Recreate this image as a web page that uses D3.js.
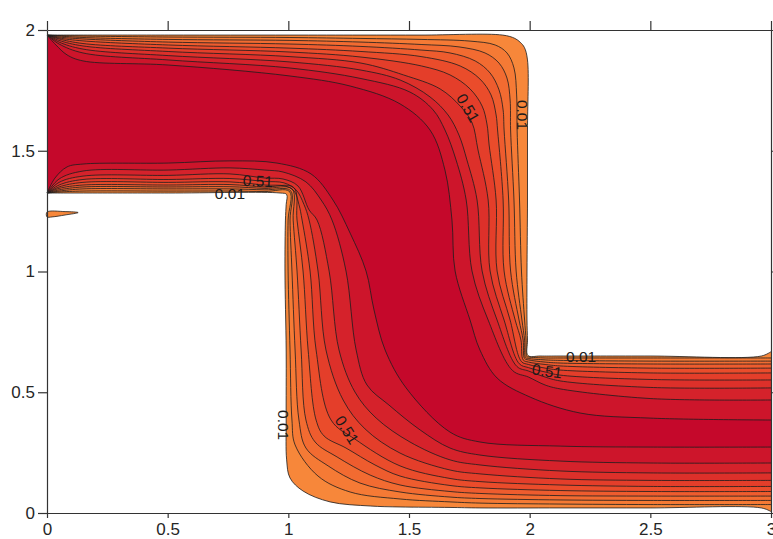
<!DOCTYPE html>
<html><head><meta charset="utf-8">
<script src="https://cdn.jsdelivr.net/npm/d3@7"></script>
<style>body{margin:0;background:#fff}svg{display:block}</style>
</head><body>
<script>
// contour levels and fill colours (band from level k up to level k+1)
const levels = [0.01,0.11,0.21,0.31,0.41,0.51,0.61,0.71,0.81,0.91];
const bandColors = ["#f7873a","#f57a35","#f26b31","#ee5c2e","#ea4c2b","#e43e2a","#dd302a","#d5222b","#cd152b","#c5082b"];

// contour lines running along the upper / right / outlet-top wall (one per level), [x, y]
const linesWallA = [
 [[0,1.979],[0.502,1.979],[1.003,1.979],[1.301,1.979],[1.55,1.979],[1.888,1.979],[1.939,1.965],[1.961,1.949],[1.978,1.928],[1.991,1.876],[1.991,1.586],[1.991,1.296],[1.989,1.002],[1.989,0.799],[1.991,0.716],[1.993,0.652],[2.043,0.650],[2.126,0.650],[2.499,0.650],[2.96,0.650],[3,0.668]],
 [[0,1.979],[0.050,1.977],[0.149,1.975],[0.502,1.971],[1.003,1.969],[1.301,1.965],[1.550,1.961],[1.753,1.954],[1.857,1.938],[1.906,1.905],[1.935,1.843],[1.946,1.731],[1.948,1.586],[1.958,1.296],[1.966,1.002],[1.979,0.799],[1.985,0.716],[1.988,0.648],[1.995,0.646],[2.064,0.642],[2.126,0.642],[2.499,0.642],[3,0.642]],
 [[0,1.979],[0.050,1.975],[0.149,1.969],[0.502,1.961],[1.003,1.957],[1.301,1.950],[1.550,1.940],[1.707,1.930],[1.815,1.905],[1.873,1.863],[1.906,1.801],[1.919,1.710],[1.921,1.586],[1.935,1.296],[1.944,1.002],[1.968,0.799],[1.979,0.716],[1.983,0.644],[1.995,0.640],[2.064,0.634],[2.126,0.632],[2.499,0.629],[3,0.629]],
 [[0,1.979],[0.050,1.971],[0.149,1.963],[0.502,1.950],[1.003,1.942],[1.301,1.932],[1.550,1.917],[1.670,1.905],[1.774,1.872],[1.836,1.822],[1.873,1.752],[1.890,1.669],[1.894,1.586],[1.913,1.296],[1.921,1.002],[1.956,0.799],[1.973,0.716],[1.979,0.640],[1.995,0.634],[2.064,0.625],[2.126,0.621],[2.499,0.617],[3,0.617]],
 [[0,1.979],[0.050,1.967],[0.149,1.955],[0.502,1.938],[1.003,1.925],[1.301,1.911],[1.550,1.890],[1.712,1.851],[1.794,1.797],[1.840,1.731],[1.861,1.648],[1.867,1.586],[1.890,1.296],[1.894,1.002],[1.940,0.799],[1.964,0.716],[1.973,0.634],[1.995,0.625],[2.064,0.615],[2.126,0.609],[2.499,0.600],[3,0.600]],
 [[0,1.979],[0.050,1.963],[0.149,1.944],[0.502,1.925],[1.003,1.909],[1.301,1.888],[1.552,1.851],[1.670,1.814],[1.753,1.756],[1.803,1.685],[1.823,1.611],[1.832,1.524],[1.861,1.296],[1.865,1.002],[1.919,0.799],[1.966,0.627],[1.995,0.615],[2.064,0.600],[2.126,0.592],[2.499,0.580],[3,0.580]],
 [[0,1.979],[0.050,1.957],[0.149,1.934],[0.502,1.911],[1.003,1.890],[1.301,1.863],[1.477,1.814],[1.629,1.756],[1.712,1.685],[1.761,1.617],[1.786,1.503],[1.828,1.296],[1.836,1.002],[1.894,0.799],[1.957,0.618],[1.995,0.602],[2.064,0.584],[2.126,0.571],[2.499,0.553],[3,0.551]],
 [[0,1.979],[0.050,1.950],[0.149,1.921],[0.502,1.894],[1.003,1.868],[1.301,1.834],[1.463,1.793],[1.587,1.723],[1.662,1.648],[1.707,1.565],[1.740,1.462],[1.782,1.296],[1.803,1.002],[1.865,0.799],[1.947,0.607],[1.995,0.588],[2.064,0.563],[2.126,0.547],[2.499,0.520],[3,0.518]],
 [[0,1.979],[0.050,1.942],[0.149,1.905],[0.502,1.876],[1.003,1.843],[1.301,1.799],[1.504,1.743],[1.600,1.669],[1.649,1.586],[1.695,1.462],[1.737,1.296],[1.761,1.002],[1.828,0.799],[1.929,0.590],[1.995,0.563],[2.064,0.530],[2.126,0.514],[2.499,0.474],[3,0.468]],
 [[0,1.979],[0.037,1.938],[0.083,1.897],[0.149,1.872],[0.502,1.855],[1.003,1.810],[1.256,1.768],[1.463,1.694],[1.587,1.586],[1.649,1.420],[1.678,1.213],[1.691,1.002],[1.753,0.799],[1.794,0.675],[1.865,0.559],[2.002,0.480],[2.209,0.414],[2.499,0.393],[3,0.385]]
];

// contour lines running along the lower / left / bottom wall (one per level), [x, y]
const linesWallB = [
 [[0,1.325],[0.502,1.325],[0.966,1.325],[0.993,1.319],[0.991,1.277],[0.988,1.213],[0.986,1.002],[0.991,0.675],[0.991,0.385],[0.993,0.220],[1.007,0.145],[1.061,0.091],[1.173,0.046],[1.339,0.029],[1.463,0.025],[1.670,0.023],[1.794,0.021],[2.126,0.021],[2.499,0.021],[2.96,0.021],[3,0.006]],
 [[0,1.325],[0.050,1.329],[0.149,1.333],[0.502,1.333],[0.758,1.333],[0.903,1.331],[1.005,1.331],[0.999,1.213],[0.999,1.002],[1.007,0.675],[1.015,0.385],[1.028,0.282],[1.123,0.153],[1.256,0.087],[1.463,0.058],[1.670,0.046],[1.794,0.041],[2.126,0.037],[2.499,0.035],[3,0.035]],
 [[0,1.325],[0.050,1.333],[0.149,1.342],[0.502,1.342],[0.758,1.342],[0.903,1.338],[1.009,1.335],[1.007,1.213],[1.015,1.002],[1.028,0.675],[1.044,0.385],[1.073,0.269],[1.165,0.195],[1.297,0.124],[1.463,0.087],[1.670,0.066],[1.794,0.060],[2.126,0.054],[2.499,0.052],[3,0.052]],
 [[0,1.325],[0.050,1.338],[0.149,1.350],[0.502,1.350],[0.758,1.351],[0.903,1.344],[1.015,1.342],[1.020,1.213],[1.036,1.002],[1.053,0.675],[1.073,0.385],[1.111,0.294],[1.202,0.232],[1.339,0.157],[1.463,0.116],[1.670,0.089],[1.794,0.081],[2.126,0.072],[2.499,0.070],[3,0.070]],
 [[0,1.325],[0.050,1.344],[0.149,1.358],[0.502,1.358],[0.758,1.360],[0.903,1.350],[1.022,1.348],[1.036,1.213],[1.061,1.002],[1.082,0.675],[1.115,0.385],[1.148,0.319],[1.239,0.269],[1.359,0.199],[1.463,0.153],[1.670,0.114],[1.794,0.104],[2.126,0.093],[2.499,0.089],[3,0.089]],
 [[0,1.325],[0.050,1.350],[0.149,1.369],[0.502,1.369],[0.758,1.371],[0.903,1.358],[0.986,1.354],[1.024,1.333],[1.044,1.277],[1.057,1.213],[1.090,1.002],[1.115,0.675],[1.177,0.385],[1.276,0.306],[1.463,0.195],[1.670,0.143],[1.794,0.130],[2.126,0.116],[2.499,0.110],[3,0.110]],
 [[0,1.325],[0.050,1.358],[0.149,1.381],[0.502,1.381],[0.758,1.385],[0.903,1.373],[0.982,1.367],[1.032,1.338],[1.065,1.277],[1.086,1.213],[1.123,1.002],[1.156,0.675],[1.227,0.468],[1.318,0.348],[1.463,0.248],[1.670,0.178],[1.794,0.162],[2.126,0.141],[2.499,0.135],[3,0.135]],
 [[0,1.325],[0.050,1.369],[0.149,1.395],[0.502,1.398],[0.758,1.404],[0.903,1.387],[0.978,1.383],[1.040,1.354],[1.086,1.255],[1.119,1.213],[1.169,1.002],[1.210,0.675],[1.276,0.501],[1.364,0.393],[1.504,0.294],[1.670,0.220],[1.794,0.199],[2.126,0.174],[2.499,0.166],[3,0.166]],
 [[0,1.325],[0.050,1.383],[0.149,1.416],[0.502,1.420],[0.758,1.429],[0.903,1.420],[0.978,1.412],[1.073,1.371],[1.136,1.296],[1.181,1.213],[1.239,1.002],[1.281,0.675],[1.326,0.530],[1.417,0.447],[1.546,0.344],[1.670,0.269],[1.794,0.240],[2.126,0.215],[2.499,0.207],[3,0.207]],
 [[0,1.325],[0.033,1.387],[0.083,1.433],[0.149,1.445],[0.502,1.449],[0.758,1.458],[0.953,1.449],[1.094,1.404],[1.185,1.296],[1.256,1.159],[1.322,1.002],[1.355,0.841],[1.401,0.675],[1.488,0.518],[1.670,0.335],[1.794,0.294],[2.126,0.277],[2.499,0.273],[3,0.273]]
];

// small low-value sliver below the inlet
const sliver = [[0,1.246],[0.075,1.248],[0.129,1.244],[0.075,1.234],[0.021,1.226],[0,1.226]];

// inline contour labels
const labelText = ["0.01","0.51","0.01","0.51","0.01","0.51","0.01","0.51"];
const labelX = [0.758,0.874,1.969,1.745,2.213,2.072,0.982,1.243];
const labelY = [1.321,1.375,1.648,1.677,0.650,0.588,0.364,0.344];
const labelAngle = [0,3,90,60,0,8,90,58];

const xTicks = [0,0.5,1,1.5,2,2.5,3];
const yTicks = [0,0.5,1,1.5,2];

const W = 773, H = 539;
const x = d3.scaleLinear().domain([0,3]).range([47,771]);
const y = d3.scaleLinear().domain([0,2]).range([513,30]);

const svg = d3.select("body").append("svg").attr("width",W).attr("height",H);

const line = d3.line().x(d=>x(d[0])).y(d=>y(d[1])).curve(d3.curveCatmullRom.alpha(0.5));

// filled super-level regions, low to high
const gFill = svg.append("g");
levels.forEach((lv,k)=>{
  const a = line(linesWallA[k]);
  const b = line(linesWallB[k].slice().reverse()).replace(/^M/,"L");
  gFill.append("path").attr("d", a + b + "Z").attr("fill", bandColors[k]).attr("stroke","none");
});

// sliver
svg.append("path")
  .attr("d", d3.line().x(d=>x(d[0])).y(d=>y(d[1])).curve(d3.curveCatmullRomClosed.alpha(0.5))(sliver))
  .attr("fill", bandColors[0]).attr("stroke","#222").attr("stroke-width",0.8);

// contour lines
const gLines = svg.append("g").attr("fill","none").attr("stroke","#1e1e1e").attr("stroke-width",0.9).attr("stroke-opacity",0.9);
levels.forEach((lv,k)=>{
  gLines.append("path").attr("d", line(linesWallA[k]));
  gLines.append("path").attr("d", line(linesWallB[k]));
});

// labels
const gLab = svg.append("g").attr("font-family","'Liberation Sans', Arial, sans-serif").attr("font-size",15.5).attr("fill","#1a1a1a");
labelText.forEach((t,i)=>{
  gLab.append("text")
    .attr("transform",`translate(${x(labelX[i])},${y(labelY[i])}) rotate(${labelAngle[i]})`)
    .attr("text-anchor","middle").attr("dominant-baseline","central").text(t);
});

// axes
const fmt = d3.format("~g");
const axStyle = g => {
  g.selectAll("path.domain").attr("stroke","#333").attr("stroke-width",1.2);
  g.selectAll(".tick line").attr("stroke","#333").attr("stroke-width",1.2);
  g.selectAll("text").attr("fill","#262626").attr("font-size",17).attr("font-family","'Liberation Sans', Arial, sans-serif");
};
svg.append("g").attr("transform",`translate(0,${y(0)})`)
  .call(d3.axisBottom(x).tickValues(xTicks).tickFormat(fmt).tickSize(5).tickSizeOuter(0).tickPadding(5)).call(axStyle);
svg.append("g").attr("transform",`translate(${x(0)},0)`)
  .call(d3.axisLeft(y).tickValues(yTicks).tickFormat(fmt).tickSize(9).tickSizeOuter(0).tickPadding(3)).call(axStyle);
svg.append("g").attr("transform",`translate(0,${y(2)})`)
  .call(d3.axisTop(x).tickValues(xTicks).tickFormat("").tickSize(9).tickSizeOuter(0)).call(axStyle);
svg.append("g").attr("transform",`translate(${x(3)},0)`)
  .call(d3.axisRight(y).tickValues(yTicks).tickFormat("").tickSize(9).tickSizeOuter(0)).call(axStyle);
</script>
</body></html>
